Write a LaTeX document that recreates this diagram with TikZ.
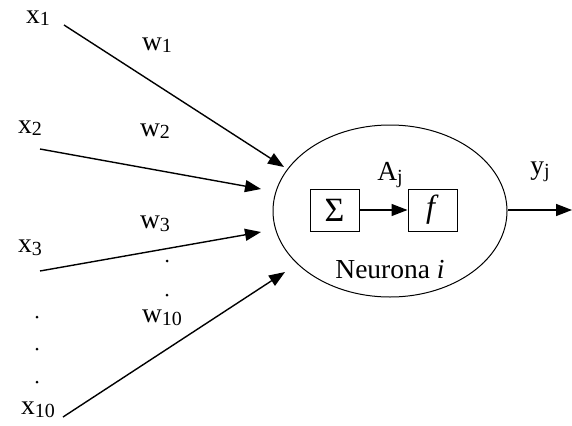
\documentclass[tikz,border=0pt]{standalone}
\usepackage{fontspec}
\setmainfont{Liberation Serif}
\usetikzlibrary{arrows.meta,shapes.geometric}
\newcommand{\lowsub}[1]{\raisebox{-2.5pt}{\fontsize{20}{20}\selectfont #1}}
\begin{document}
\begin{tikzpicture}[x=1pt,y=-1pt,
  lbl/.style={inner sep=0pt,font=\fontsize{27.5}{27.5}\selectfont},
  arr/.style={line width=1.4pt,-{Triangle[length=16pt,width=12pt]}},
  opbox/.style={draw,line width=1pt,minimum width=49pt,minimum height=42pt,inner sep=0pt},
  dotmark/.style={circle,fill,inner sep=0pt,minimum size=3pt}]
\useasboundingbox (0,0) rectangle (572,425);

% neuron body
\node[ellipse,draw,line width=1pt,minimum width=234pt,minimum height=172pt,inner sep=0pt] (neuron) at (390,211) {};
\node[opbox] (sum) at (334.5,210) {\fontsize{34}{34}\selectfont Σ};
\node[opbox] (act) at (432.5,210) {\fontsize{32}{32}\selectfont\textit{f}};
\draw[arr] (sum) -- (act);
\node[lbl] (aj) at (390,175) {A\lowsub{j}};
\node[lbl] (name) at (390,270) {Neurona \textit{i}};

% output
\coordinate (out) at (572,210);
\draw[arr] (neuron.east |- out) -- (out);
\node[lbl] (yj) at (540,172) {y\lowsub{j}};

% inputs
\node[lbl] (x1) at (38,18) {x\lowsub{1}};
\node[lbl] (x2) at (30,128) {x\lowsub{2}};
\node[lbl] (x3) at (30,248) {x\lowsub{3}};
\node[lbl] (x10) at (38,410) {x\lowsub{10}};

\node[lbl] (w1) at (157,45) {w\lowsub{1}};
\node[lbl] (w2) at (155,131) {w\lowsub{2}};
\node[lbl] (w3) at (155,224) {w\lowsub{3}};
\node[lbl] (w10) at (162,318) {w\lowsub{10}};

\coordinate (s1) at (64,25);   \coordinate (t1) at (284,167);
\coordinate (s2) at (40,149);  \coordinate (t2) at (261,189);
\coordinate (s3) at (40,271);  \coordinate (t3) at (261,232);
\coordinate (s10) at (63,417); \coordinate (t10) at (285,272);
\draw[arr] (s1) -- (t1);
\draw[arr] (s2) -- (t2);
\draw[arr] (s3) -- (t3);
\draw[arr] (s10) -- (t10);

% ellipsis dots
\node[dotmark] (wd1) at (167,261) {};
\node[dotmark] (wd2) at (167,295) {};
\node[dotmark] (xd1) at (37,317) {};
\node[dotmark] (xd2) at (37,349) {};
\node[dotmark] (xd3) at (37,382) {};
\end{tikzpicture}
\end{document}
